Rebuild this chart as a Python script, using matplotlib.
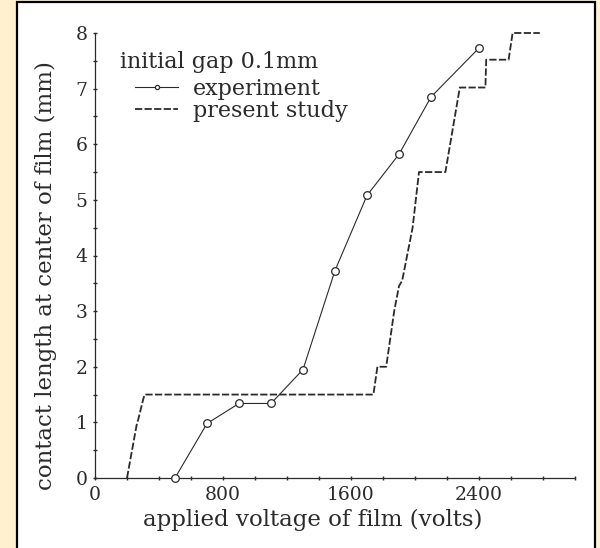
import matplotlib
matplotlib.use("Agg")
import matplotlib.pyplot as plt
from matplotlib.patches import Rectangle

# experiment (circles)
exp_volts = [500, 700, 900, 1100, 1300, 1500, 1700, 1900, 2100, 2400]
exp_len = [0.0, 0.98, 1.34, 1.34, 1.95, 3.73, 5.08, 5.82, 6.85, 7.73]

# present study (dashed, stepwise)
calc_volts = [200, 260, 270, 300, 310, 1740, 1765, 1820, 1870, 1900, 1920,
              1985, 2025, 2190, 2280, 2440, 2445, 2585, 2610, 2780]
calc_len = [0.0, 0.95, 1.05, 1.4, 1.5, 1.5, 2.0, 2.0, 3.0, 3.45, 3.55,
            4.5, 5.5, 5.5, 7.02, 7.02, 7.52, 7.52, 8.0, 8.0]

x_ticks = [0, 800, 1600, 2400]
y_ticks = [0, 1, 2, 3, 4, 5, 6, 7, 8]

ink = "#2a2a2a"
plt.rcParams["font.family"] = ["DejaVu Serif"]

fig = plt.figure(figsize=(6.0, 5.48), dpi=100, facecolor="#fff0cf")
fig.patches.append(Rectangle((17 / 600, -0.05), 578 / 600, 1.05 - 2 / 548,
                             transform=fig.transFigure, facecolor="white",
                             edgecolor="black", linewidth=1.6, zorder=-5))

ax = fig.add_axes([95 / 600, 70 / 548, 480 / 600, 445 / 548])
ax.set_facecolor("none")

ax.plot(exp_volts, exp_len, color=ink, linewidth=0.8, marker="o",
        markersize=5.5, markerfacecolor="white", markeredgecolor=ink,
        markeredgewidth=0.9, clip_on=False, label="experiment", zorder=3)
line, = ax.plot(calc_volts, calc_len, color=ink, linewidth=1.3,
                clip_on=False, label="present study", zorder=2)
line.set_dashes((4.0, 1.3))

ax.set_xlim(0, 3000)
ax.set_ylim(0, 8)
ax.set_xticks(x_ticks)
ax.set_xticks(range(0, 3001, 200), minor=True)
ax.set_yticks(y_ticks)
ax.set_yticks([v / 2 for v in range(17)], minor=True)
ax.tick_params(which="both", direction="inout", length=3, width=1,
               color=ink, labelcolor=ink, labelsize=13.5, pad=4)

for side in ["top", "right"]:
    ax.spines[side].set_visible(False)
for side in ["left", "bottom"]:
    ax.spines[side].set_color(ink)
    ax.spines[side].set_linewidth(0.9)

ax.set_xlabel("applied voltage of film (volts)", fontsize=16.5, color=ink)
ax.xaxis.set_label_coords(0.454, -0.07)
ax.set_ylabel("contact length at center of film (mm)", fontsize=16.5,
              color=ink)
ax.yaxis.set_label_coords(-0.079, 0.454)

ax.text(0.052, 0.935, "initial gap 0.1mm", transform=ax.transAxes,
        fontsize=16, color=ink, ha="left", va="center")
leg = ax.legend(loc="upper left", bbox_to_anchor=(0.083, 0.9),
                frameon=False, fontsize=16, handlelength=1.95,
                handletextpad=0.68, labelspacing=0.0, borderpad=0.0,
                borderaxespad=0.0, markerscale=0.55)
for t in leg.get_texts():
    t.set_color(ink)

fig.savefig("out.png", dpi=100, facecolor=fig.get_facecolor())
